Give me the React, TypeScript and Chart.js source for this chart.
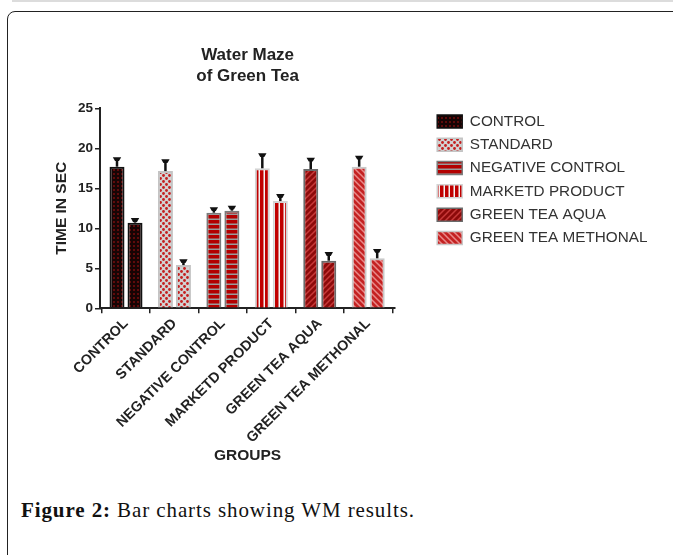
import React, { useEffect, useRef } from 'react';
import { Chart, registerables } from 'chart.js';

Chart.register(...registerables);

// ---- data ----
const groups = [
  'CONTROL',
  'STANDARD',
  'NEGATIVE CONTROL',
  'MARKETD PRODUCT',
  'GREEN TEA AQUA',
  'GREEN TEA METHONAL',
];
const firstBar = [17.7, 17.15, 11.95, 17.5, 17.4, 17.7];
const firstErr = [1.05, 1.35, 0.55, 1.75, 1.3, 1.25];
const secondBar = [10.7, 5.4, 12.2, 13.4, 5.95, 6.25];
const secondErr = [0.45, 0.6, 0.5, 0.75, 0.95, 1.05];
const yTickValues = [0, 5, 10, 15, 20, 25];

// ---- styles ----
const patternKinds = ['dots', 'check', 'hstripe', 'vstripe', 'diagDark', 'diagLight'];
const borderColors = ['#111111', '#c4c4c4', '#7a7a7a', '#d4d4d4', '#6a6a6a', '#c8c8c8'];
const FONT = "'Liberation Sans', Arial, sans-serif";

function makePattern(kind: string): CanvasPattern | string {
  const c = document.createElement('canvas');
  const ctx = c.getContext('2d');
  if (!ctx) return '#a00';
  if (kind === 'dots') {
    c.width = 4; c.height = 4;
    ctx.fillStyle = '#170404'; ctx.fillRect(0, 0, 4, 4);
    ctx.fillStyle = '#5e0b0b'; ctx.fillRect(1, 1, 2, 2);
  } else if (kind === 'check') {
    c.width = 6; c.height = 6;
    ctx.fillStyle = '#d2d2d2'; ctx.fillRect(0, 0, 6, 6);
    ctx.fillStyle = '#c41e1e';
    ctx.beginPath(); ctx.arc(1.5, 1.5, 1.4, 0, Math.PI * 2); ctx.fill();
    ctx.beginPath(); ctx.arc(4.5, 4.5, 1.4, 0, Math.PI * 2); ctx.fill();
  } else if (kind === 'hstripe') {
    c.width = 4; c.height = 5;
    ctx.fillStyle = '#b30000'; ctx.fillRect(0, 0, 4, 5);
    ctx.fillStyle = '#9a9a9a'; ctx.fillRect(0, 3.5, 4, 1.5);
  } else if (kind === 'vstripe') {
    c.width = 5; c.height = 4;
    ctx.fillStyle = '#c00000'; ctx.fillRect(0, 0, 5, 4);
    ctx.fillStyle = '#f4f4f4'; ctx.fillRect(3.5, 0, 1.5, 4);
  } else if (kind === 'diagDark' || kind === 'diagLight') {
    c.width = 6; c.height = 6;
    ctx.fillStyle = kind === 'diagDark' ? '#8c0a0a' : '#c42222';
    ctx.fillRect(0, 0, 6, 6);
    ctx.strokeStyle = kind === 'diagDark' ? '#c83a3a' : '#e98a8a';
    ctx.lineWidth = 1.5;
    ctx.beginPath();
    if (kind === 'diagDark') {
      ctx.moveTo(0, 6); ctx.lineTo(6, 0);
      ctx.moveTo(-3, 3); ctx.lineTo(3, -3);
      ctx.moveTo(3, 9); ctx.lineTo(9, 3);
    } else {
      ctx.moveTo(0, 0); ctx.lineTo(6, 6);
      ctx.moveTo(-3, 3); ctx.lineTo(3, 9);
      ctx.moveTo(3, -3); ctx.lineTo(9, 3);
    }
    ctx.stroke();
  }
  return ctx.createPattern(c, 'repeat') || '#a00';
}

const errorBarPlugin = {
  id: 'errorBars',
  afterDatasetsDraw(chart: any) {
    const ctx = chart.ctx;
    const ys = chart.scales.y;
    const sets: [number[], number[]][] = [
      [firstBar, firstErr],
      [secondBar, secondErr],
    ];
    sets.forEach(([vals, errs], d) => {
      const meta = chart.getDatasetMeta(d);
      meta.data.forEach((el: any, i: number) => {
        const x = el.x;
        const top = el.y;
        const e = ys.getPixelForValue(vals[i] + errs[i]);
        ctx.save();
        ctx.strokeStyle = '#111';
        ctx.lineWidth = 2.5;
        ctx.beginPath();
        ctx.moveTo(x, top);
        ctx.lineTo(x, e);
        ctx.stroke();
        ctx.fillStyle = '#111';
        ctx.beginPath();
        ctx.moveTo(x - 4.2, e - 1);
        ctx.lineTo(x + 4.2, e - 1);
        ctx.lineTo(x + 2, e + 2.8);
        ctx.lineTo(x - 2, e + 2.8);
        ctx.closePath();
        ctx.fill();
        ctx.restore();
      });
    });
  },
};

export default function App() {
  const ref = useRef<HTMLCanvasElement | null>(null);

  useEffect(() => {
    if (!ref.current) return;
    const fills = patternKinds.map((k) => makePattern(k));
    const tickFont = { family: FONT, size: 14.3, weight: 'bold' as const };
    const yTickFont = { family: FONT, size: 13.5, weight: 'bold' as const };
    const titleFont = { family: FONT, size: 15.5, weight: 'bold' as const };

    const chart = new Chart(ref.current, {
      type: 'bar',
      data: {
        datasets: [
          {
            label: 'Bar 1',
            data: groups.map((_, i) => ({ x: i, y: firstBar[i] })),
            backgroundColor: fills as any,
            borderColor: borderColors,
            borderWidth: 2,
            categoryPercentage: 0.744,
            barPercentage: 0.833,
          },
          {
            label: 'Bar 2',
            data: groups.map((_, i) => ({ x: i, y: secondBar[i] })),
            backgroundColor: fills as any,
            borderColor: borderColors,
            borderWidth: 2,
            categoryPercentage: 0.744,
            barPercentage: 0.833,
          },
        ] as any,
      },
      options: {
        animation: false,
        responsive: false,
        maintainAspectRatio: false,
        layout: { padding: { left: 48.7, top: 45.3, right: 15.5, bottom: 1.2 } },
        scales: {
          x: {
            type: 'linear',
            position: 'bottom',
            offset: false,
            min: -0.537,
            max: 5.558,
            afterBuildTicks: (s: any) => {
              s.ticks = groups.map((_, i) => ({ value: i }));
            },
            afterFit: (s: any) => {
              s.height = 160.5;
            },
            ticks: {
              autoSkip: false,
              minRotation: 45,
              maxRotation: 45,
              padding: 2,
              color: '#222',
              font: tickFont,
              callback: (v: any) => groups[Number(v)] ?? '',
            },
            grid: {
              display: true,
              drawOnChartArea: false,
              drawTicks: true,
              tickLength: 5,
              color: '#222',
              lineWidth: 1.5,
            },
            border: { display: true, color: '#222', width: 2 },
            title: {
              display: true,
              text: 'GROUPS',
              color: '#222',
              font: titleFont,
              padding: { top: 4, bottom: 4 },
            },
          },
          y: {
            type: 'linear',
            position: 'left',
            min: 0,
            max: 25,
            afterBuildTicks: (s: any) => {
              s.ticks = yTickValues.map((v) => ({ value: v }));
            },
            afterFit: (s: any) => {
              s.width = 51.3;
            },
            ticks: {
              padding: 2,
              color: '#222',
              font: yTickFont,
            },
            grid: {
              display: true,
              drawOnChartArea: false,
              drawTicks: true,
              tickLength: 5,
              color: '#222',
              lineWidth: 1.5,
            },
            border: { display: true, color: '#222', width: 2 },
            title: {
              display: true,
              text: 'TIME IN SEC',
              color: '#222',
              font: titleFont,
              padding: { top: 4, bottom: 4 },
            },
          },
          yR: {
            type: 'linear',
            position: 'right',
            display: true,
            grid: { display: false },
            border: { display: false },
            ticks: { display: false },
            afterFit: (s: any) => {
              s.width = 34;
            },
          },
        } as any,
        plugins: {
          tooltip: { enabled: false },
          title: {
            display: true,
            text: ['Water Maze', 'of Green Tea'],
            color: '#222',
            font: { family: FONT, size: 17, weight: 'bold', lineHeight: 1.2 },
            padding: { top: 0, bottom: 22.2 },
            fullSize: false,
          },
          legend: {
            display: true,
            position: 'right',
            align: 'start',
            fullSize: true,
            maxWidth: 300,
            onClick: () => {},
            title: {
              display: true,
              text: '',
              font: { size: 10, lineHeight: 1 },
              padding: { top: 50.5, bottom: 0 },
            },
            labels: {
              boxWidth: 25,
              boxHeight: 13,
              padding: 8,
              color: '#333',
              font: { family: FONT, size: 15.3 },
              generateLabels: () =>
                groups.map((g, i) => ({
                  text: g,
                  fillStyle: fills[i] as any,
                  strokeStyle: borderColors[i],
                  lineWidth: 1.5,
                  hidden: false,
                  datasetIndex: 0,
                  index: i,
                  fontColor: '#333',
                })),
            },
          },
        },
      } as any,
      plugins: [errorBarPlugin],
    });
    return () => chart.destroy();
  }, []);

  return (
    <div
      style={{
        position: 'absolute',
        left: 0,
        top: 0,
        width: 673,
        height: 555,
        overflow: 'hidden',
        background: '#fff',
      }}
    >
      <div style={{ position: 'absolute', left: 12, top: 0, width: 661, height: 2, background: '#dcdcdc' }} />
      <div
        style={{
          position: 'absolute',
          left: 7,
          top: 11,
          width: 720,
          height: 640,
          border: '1.5px solid #222',
          borderTopLeftRadius: 8,
        }}
      />
      <canvas
        ref={ref}
        width={673}
        height={470}
        style={{ position: 'absolute', left: 0, top: 0, width: 673, height: 470 }}
      />
      <div
        style={{
          position: 'absolute',
          left: 21,
          top: 497.6,
          fontFamily: "'Liberation Serif', 'Times New Roman', serif",
          fontSize: 21,
          lineHeight: '24px',
          letterSpacing: 0.9,
          color: '#111',
          whiteSpace: 'nowrap',
        }}
      >
        <b>Figure 2:</b> Bar charts showing WM results.
      </div>
    </div>
  );
}
